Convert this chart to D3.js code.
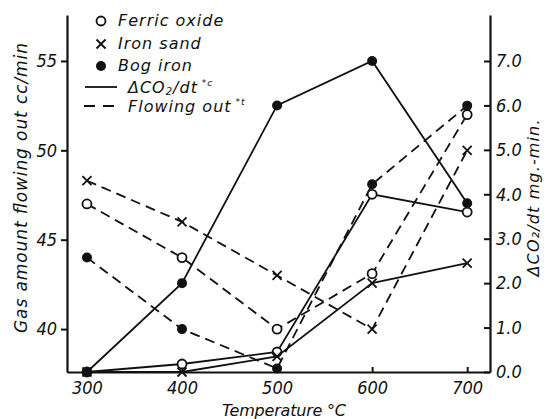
<!DOCTYPE html>
<html>
<head>
<meta charset="utf-8">
<script src="https://cdn.jsdelivr.net/npm/d3@7"></script>
<style>
  body { margin: 0; background: #fff; }
  svg text { font-family: "DejaVu Sans", sans-serif; font-style: italic; fill: #111; }
  .num { font-family: "DejaVu Sans Condensed", sans-serif; font-size: 18px; }
</style>
</head>
<body>
<script>
// temperatures (°C)
var temps = [300, 400, 500, 600, 700];

// gas flowing out, cc/min (left axis, dashed)
var flowFerric = [47.0, 44.0, 40.0, 43.1, 52.0];
var flowSand   = [48.3, 46.0, 43.0, 40.0, 50.0];
var flowBog    = [44.0, 40.0, 37.8, 48.1, 52.5];

// dCO2/dt, mg/min (right axis, solid)
var rateFerric = [0.0, 0.18, 0.45, 4.0, 3.6];
var rateSand   = [0.0, 0.0, 0.35, 2.0, 2.45];
var rateBog    = [0.0, 2.0, 6.0, 7.0, 3.8];

var leftTicks  = [40, 45, 50, 55];
var rightTicks = [0, 1, 2, 3, 4, 5, 6, 7];
var legendNames = ['Ferric oxide', 'Iron sand', 'Bog iron'];

var width = 556, height = 419;
var svg = d3.select('body').append('svg').attr('width', width).attr('height', height);

var x = d3.scaleLinear().domain([279, 724]).range([67, 490]);
var yL = d3.scaleLinear().domain([37.6, 57.57]).range([372, 15]);
var yR = d3.scaleLinear().domain([0, 8.035]).range([372, 15]);

// axes
var gx = svg.append('g').attr('transform', 'translate(0,372)')
  .call(d3.axisBottom(x).tickValues(temps).tickSizeInner(-5).tickSizeOuter(0).tickPadding(9));
var gl = svg.append('g').attr('transform', 'translate(67,0)')
  .call(d3.axisLeft(yL).tickValues(leftTicks).tickSizeInner(6).tickSizeOuter(0).tickPadding(4));
var gr = svg.append('g').attr('transform', 'translate(490,0)')
  .call(d3.axisRight(yR).tickValues(rightTicks).tickFormat(d3.format('.1f')).tickSizeInner(-6).tickSizeOuter(0).tickPadding(6));

[gx, gl, gr].forEach(function (g) {
  g.select('.domain').attr('stroke', '#111').attr('stroke-width', 2.2);
  g.selectAll('.tick line').attr('stroke', '#111').attr('stroke-width', 2);
  g.selectAll('.tick text').attr('class', 'num').attr('font-size', null).attr('font-family', null).attr('fill', '#111');
});

// axis titles
svg.append('text')
  .attr('transform', 'translate(27,188) rotate(-90)')
  .attr('text-anchor', 'middle')
  .attr('font-size', 17)
  .attr('textLength', 290)
  .text('Gas amount flowing out cc/min');

svg.append('text')
  .attr('transform', 'translate(539,198) rotate(-90)')
  .attr('text-anchor', 'middle')
  .attr('font-size', 16)
  .attr('textLength', 157)
  .text('ΔCO₂/dt mg.-min.');

svg.append('text')
  .attr('x', 284).attr('y', 416)
  .attr('text-anchor', 'middle')
  .attr('font-size', 16)
  .attr('textLength', 124)
  .text('Temperature °C');

// series
var series = [
  { vals: flowFerric, y: yL, dash: '10,6', marker: 'open' },
  { vals: flowSand,   y: yL, dash: '10,6', marker: 'cross' },
  { vals: flowBog,    y: yL, dash: '10,6', marker: 'filled' },
  { vals: rateFerric, y: yR, dash: null,  marker: 'open' },
  { vals: rateSand,   y: yR, dash: null,  marker: 'cross' },
  { vals: rateBog,    y: yR, dash: null,  marker: 'filled' }
];

function drawMarker(g, type, cx, cy) {
  if (type === 'open') {
    g.append('circle').attr('cx', cx).attr('cy', cy).attr('r', 4.5)
      .attr('fill', '#fff').attr('stroke', '#111').attr('stroke-width', 1.8);
  } else if (type === 'filled') {
    g.append('circle').attr('cx', cx).attr('cy', cy).attr('r', 5).attr('fill', '#111');
  } else {
    var s = 4.5;
    g.append('path')
      .attr('d', 'M' + (cx - s) + ',' + (cy - s) + 'L' + (cx + s) + ',' + (cy + s) +
                 'M' + (cx - s) + ',' + (cy + s) + 'L' + (cx + s) + ',' + (cy - s))
      .attr('stroke', '#111').attr('stroke-width', 1.8);
  }
}

series.forEach(function (s) {
  var line = d3.line()
    .x(function (d, i) { return x(temps[i]); })
    .y(function (d) { return s.y(d); });
  svg.append('path')
    .datum(s.vals)
    .attr('d', line)
    .attr('fill', 'none')
    .attr('stroke', '#111')
    .attr('stroke-width', 1.8)
    .attr('stroke-dasharray', s.dash);
});

series.forEach(function (s) {
  var g = svg.append('g');
  s.vals.forEach(function (d, i) { drawMarker(g, s.marker, x(temps[i]), s.y(d)); });
});

// legend
var legend = svg.append('g');
var markerTypes = ['open', 'cross', 'filled'];
var legendY = [21, 44, 66];
legendNames.forEach(function (name, i) {
  drawMarker(legend, markerTypes[i], 101, legendY[i]);
  legend.append('text').attr('x', 118).attr('y', legendY[i] + 5)
    .attr('font-size', 16).attr('letter-spacing', 1).text(name);
});
legend.append('line').attr('x1', 85).attr('x2', 117).attr('y1', 87).attr('y2', 87)
  .attr('stroke', '#111').attr('stroke-width', 1.8);
legend.append('text').attr('x', 128).attr('y', 93).attr('font-size', 16).attr('letter-spacing', 1)
  .html('ΔCO<tspan font-size="10" dy="2">2</tspan><tspan dy="-2">/dt</tspan><tspan font-size="9" dy="-7"> *c</tspan>');
legend.append('line').attr('x1', 84).attr('x2', 117).attr('y1', 106).attr('y2', 106)
  .attr('stroke', '#111').attr('stroke-width', 1.8).attr('stroke-dasharray', '11,8');
legend.append('text').attr('x', 128).attr('y', 112).attr('font-size', 16).attr('letter-spacing', 1)
  .html('Flowing out<tspan font-size="9" dy="-7"> *t</tspan>');
</script>
</body>
</html>
